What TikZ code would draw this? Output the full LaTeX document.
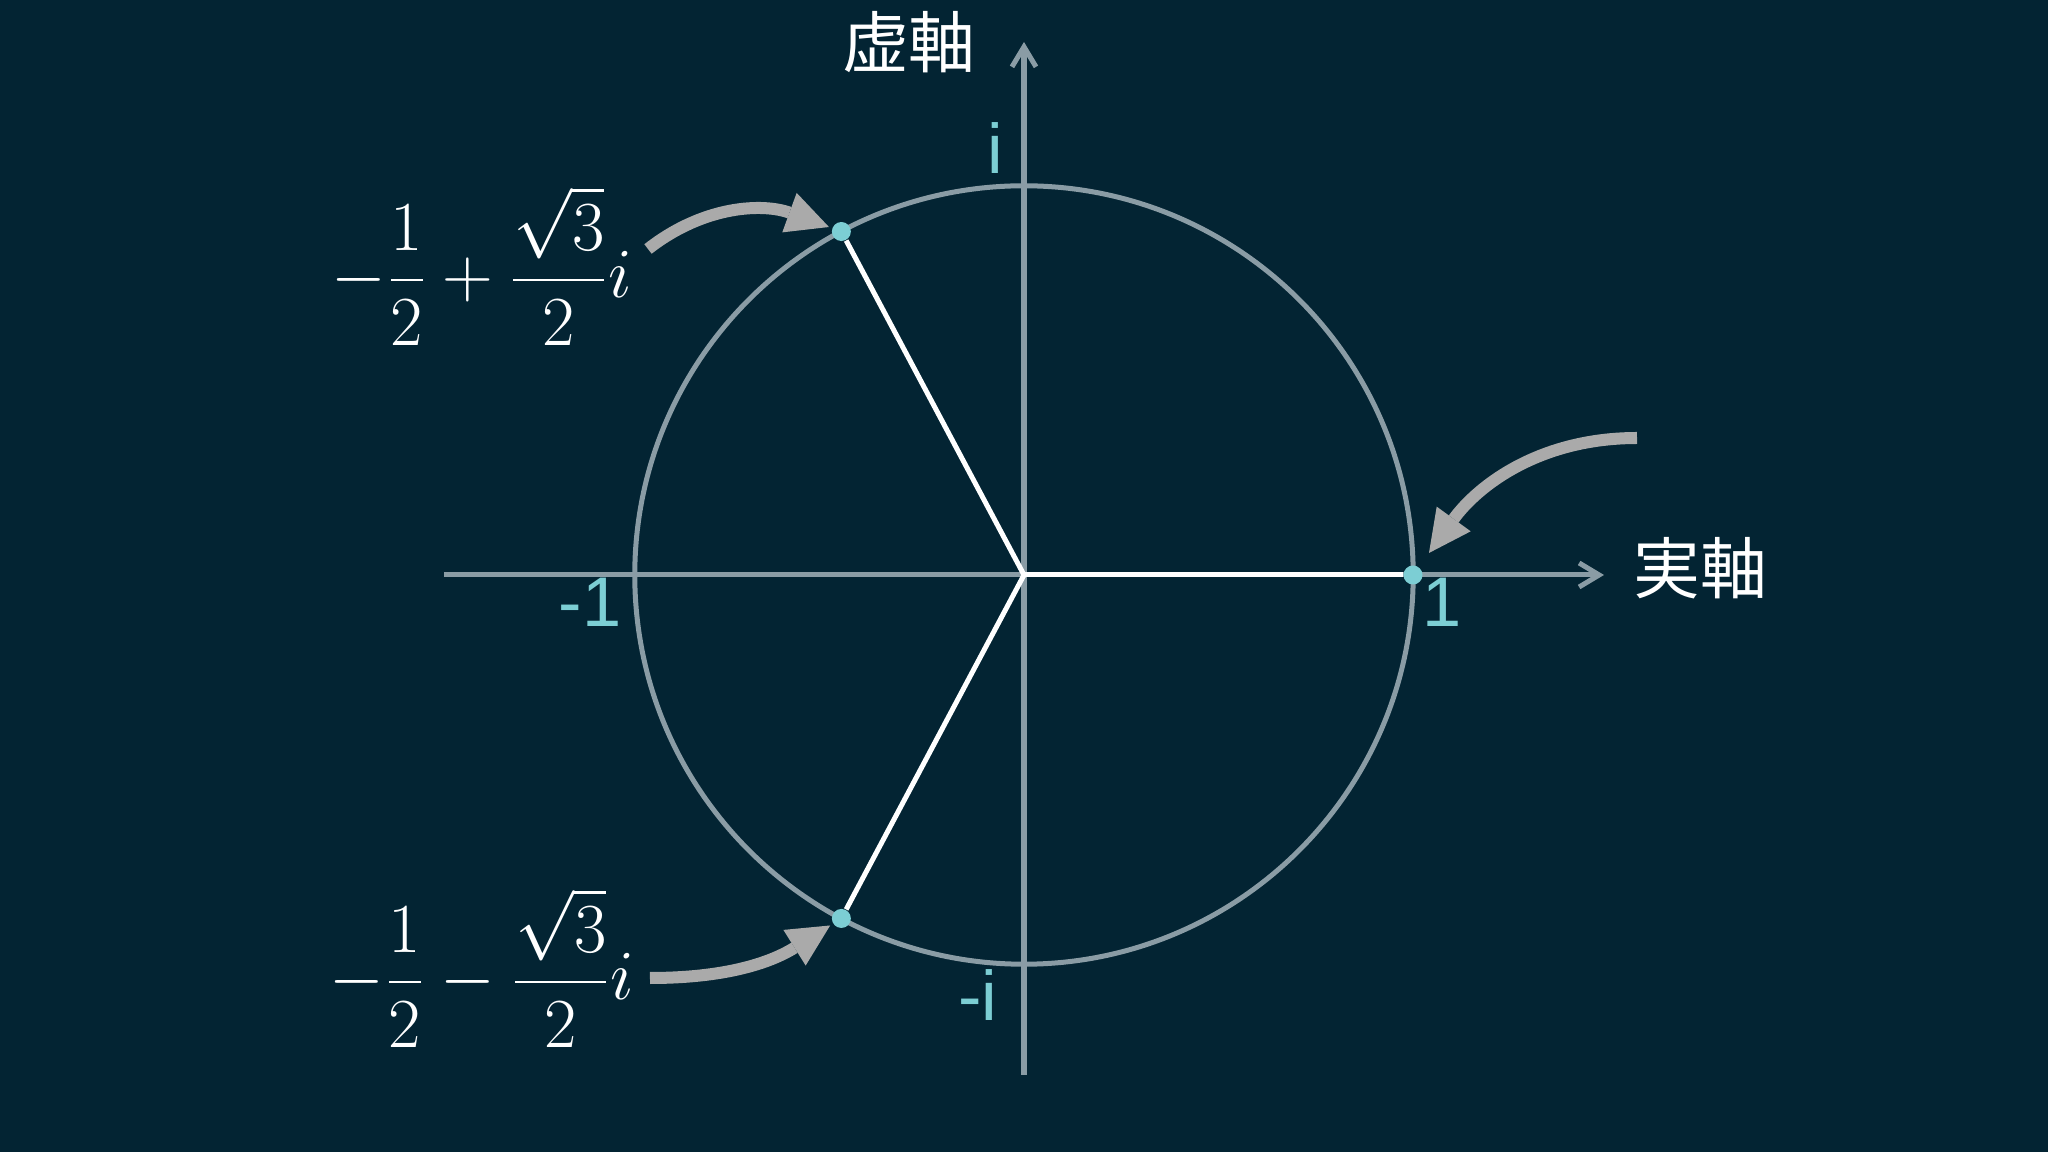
\RequirePackage{fix-cm}
\documentclass[tikz,border=0pt]{standalone}
\usepackage{amsmath}
\usepackage{fontspec}
\newfontfamily\cjkfont{Noto Sans CJK JP}
\newfontfamily\labelfont{Liberation Sans}
\usetikzlibrary{arrows.meta}
\definecolor{bgblue}{RGB}{3,36,51}
\definecolor{axisgray}{RGB}{138,156,165}
\definecolor{rootcyan}{RGB}{124,206,212}
\definecolor{pointergray}{RGB}{170,170,170}
\tikzset{
	% 1 unit = 1px of the 2048 x 1152 picture
	axis/.style={draw=axisgray, line width=0.5mm, -{Straight Barb[length=2mm, width=2.4mm]}},
	unitcircle/.style={draw=axisgray, line width=0.5mm},
	spoke/.style={draw=white, line width=0.5mm},
	root/.style={circle, fill=rootcyan, inner sep=0pt, minimum size=1.9mm},
	unitlabel/.style={text=rootcyan, inner sep=0pt, font=\labelfont\fontsize{20pt}{24pt}\selectfont},
	axislabel/.style={text=white, inner sep=0pt, font=\cjkfont\fontsize{19pt}{23pt}\selectfont},
	rootlabel/.style={text=white, inner sep=0pt, font=\fontsize{20pt}{24pt}\selectfont},
	pointer/.style={draw=pointergray, line width=1.2mm, -{Triangle[length=4.2mm, width=4.2mm, line width=0pt]}, shorten >=0.3mm}
}

\begin{document}
\begin{tikzpicture}[x=0.01cm, y=0.01cm]
	% background, origin in the centre of the circle
	\fill[bgblue] (-1024,-577) rectangle (1024,575);
	\useasboundingbox (-1024,-577) rectangle (1024,575);
	\coordinate (o) at (0,0);
	
	% circle and axes
	\draw[unitcircle] (o) circle (3.89cm);
	\coordinate (xl) at (-580,0);
	\coordinate (xr) at (580,0);
	\coordinate (yb) at (0,-500);
	\coordinate (yt) at (0,533);
	\draw[axis] (xl) -- (xr);
	\draw[axis] (yb) -- (yt);
	
	\node[axislabel] (re) at (676,7) {実軸};
	\node[axislabel] (im) at (-115,533) {虚軸};
	
	\node[unitlabel] (lone) at (418,-27) {1};
	\node[unitlabel] (lmone) at (-434,-27) {-1};
	\node[unitlabel] (li) at (-29,427) {i};
	\node[unitlabel] (lmi) at (-46,-420) {-i};
	
	% cube roots of 1
	\node[root] (pC) at (0:389) {};
	\node[root] (pA) at (118:389) {};
	\node[root] (pB) at (242:389) {};
	\draw[spoke] (o) -- (pC);
	\draw[spoke] (o) -- (pA);
	\draw[spoke] (o) -- (pB);
	
	\node[rootlabel] (fA) at (-542,309) {$\displaystyle -\frac{1}{2}+\frac{\sqrt{3}}{2}i$};
	\node[rootlabel] (fB) at (-542,-393) {$\displaystyle -\frac{1}{2}-\frac{\sqrt{3}}{2}i$};
	
	% curved pointers
	\coordinate (sA) at (-376,326);
	\coordinate (sB) at (-374,-403);
	\coordinate (sC) at (613,137);
	\draw[pointer] (sA) to[out=38, in=160] (pA);
	\draw[pointer] (sB) to[out=0, in=212] (pB);
	\draw[pointer, shorten >=1.7mm] (sC) to[out=180, in=54] (pC);
\end{tikzpicture}
\end{document}
